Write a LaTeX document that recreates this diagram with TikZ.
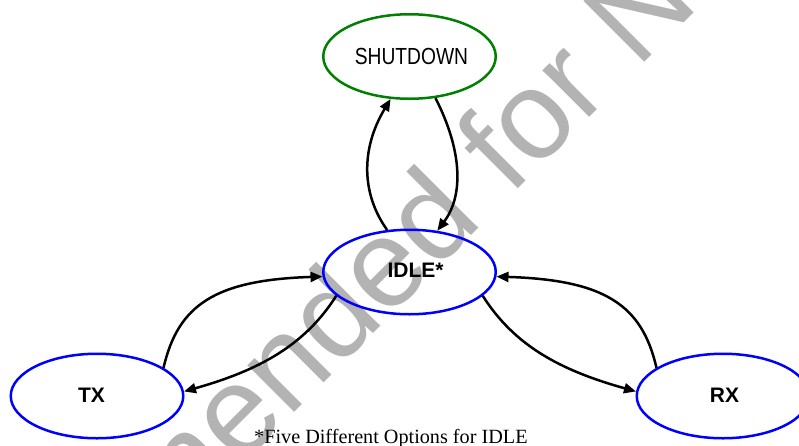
\documentclass[tikz,border=0pt]{standalone}
\usepackage{fontspec}
\setmainfont{Liberation Sans}
\newfontfamily\capfont{Liberation Serif}
\usetikzlibrary{arrows.meta,shapes.geometric}
\definecolor{stateblue}{RGB}{0,0,255}
\definecolor{stategreen}{RGB}{0,128,0}
\definecolor{wmgray}{RGB}{179,179,179}
\begin{document}
\begin{tikzpicture}[x=1pt,y=-1pt,
  state/.style={ellipse, draw=stateblue, line width=2.5pt, minimum width=172.5pt, minimum height=84.5pt, inner sep=0pt},
  lbl/.style={font=\fontsize{21}{25}\selectfont\bfseries, inner sep=0pt},
  conn/.style={line width=2.5pt, -{Triangle[length=12pt,width=10pt]}},
  wm/.style={text=wmgray, font=\fontsize{125}{150}\selectfont, rotate=45, inner sep=0pt}]
\clip (0,0) rectangle (799,445);
\fill[white] (0,0) rectangle (799,445);
% watermark
\node[wm, anchor=base east] (wm1) at (485.4,221.6) {Not Recommended};
\node[wm, anchor=base west] (wm2) at (510,197) {for New Designs};
% states
\node[state, draw=stategreen] (sd) at (409.5,56.5) {};
\node[state] (idle) at (409.5,272) {};
\node[state] (tx) at (97,396) {};
\node[state] (rx) at (723,396) {};
% labels
\node[font=\fontsize{23.3}{28}\selectfont, inner sep=0pt] (sdl) at (411.5,56.5) {\scalebox{0.825}[1]{SHUTDOWN}};
\node[lbl] (idlel) at (415.5,270.7) {IDLE*};
\node[lbl] (txl) at (91.5,395.5) {TX};
\node[lbl] (rxl) at (724.5,395.5) {RX};
\node[font=\capfont\fontsize{20.2}{24}\selectfont, anchor=base west, inner sep=0pt] (cap) at (254,443.3) {*Five Different Options for IDLE};
% connectors
\draw[conn] (idle.118) .. controls (362,195) and (360,150) .. (sd.246);
\draw[conn] (sd.302) .. controls (462,150) and (464,195) .. (idle.56);
\draw[conn] (tx.23) .. controls (178,305) and (215,280) .. (idle.183);
\draw[conn] (idle.198) .. controls (305,345) and (260,370) .. (tx.3);
\draw[conn] (rx.157) .. controls (642,305) and (605,280) .. (idle.357);
\draw[conn] (idle.342) .. controls (514,345) and (559,370) .. (rx.177);
\end{tikzpicture}
\end{document}
